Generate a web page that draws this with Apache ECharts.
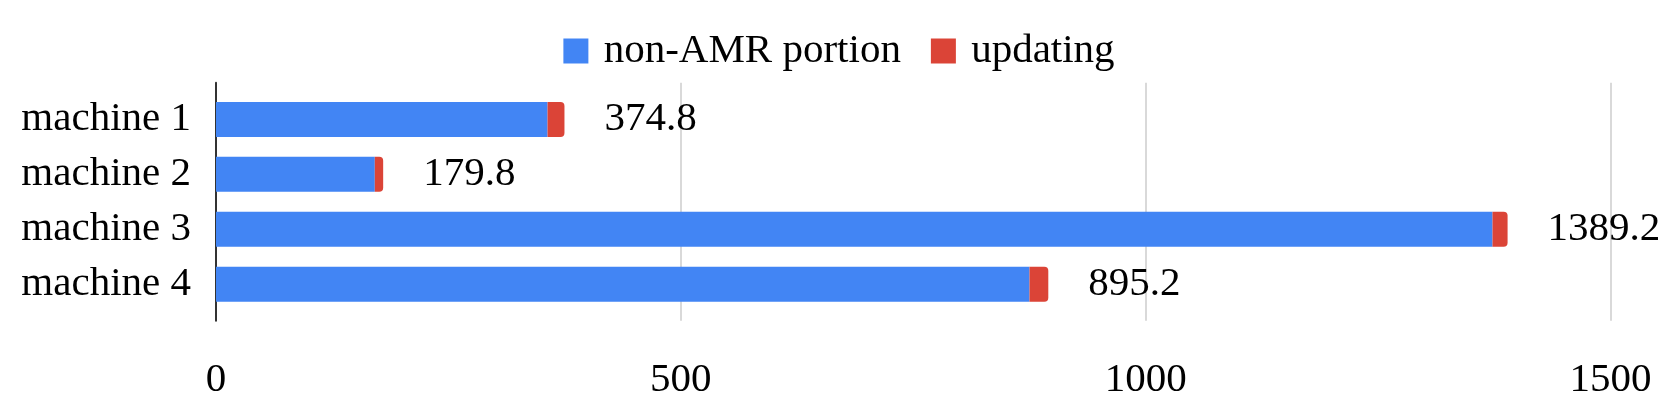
<!DOCTYPE html>
<html>
<head>
<meta charset="utf-8">
<script src="https://cdn.jsdelivr.net/npm/echarts@6/dist/echarts.min.js"></script>
<style>
html,body{margin:0;padding:0;background:#fff;}
#chart{width:1678px;height:411px;}
</style>
</head>
<body>
<div id="chart"></div>
<script>
var categories = ['machine 1', 'machine 2', 'machine 3', 'machine 4'];
var nonAmr = [356.6, 170.8, 1373.0, 875.0];
var updating = [18.2, 9.0, 16.2, 20.2];
var totalLabels = ['374.8', '179.8', '1389.2', '895.2'];
var xTicks = [0, 500, 1000, 1500];

var FONT = '"Liberation Serif", "Times New Roman", serif';
var chart = echarts.init(document.getElementById('chart'), null, {renderer: 'canvas'});
chart.setOption({
  animation: false,
  backgroundColor: '#fff',
  textStyle: {fontFamily: FONT},
  legend: {
    top: 23,
    left: 'center',
    icon: 'rect',
    itemWidth: 25,
    itemHeight: 25,
    itemGap: 30,
    formatter: function (name) { return ' ' + name; },
    textStyle: {fontFamily: FONT, fontSize: 41, color: '#000', lineHeight: 46},
    data: ['non-AMR portion', 'updating']
  },
  grid: [
    {left: 216, right: 67.4, top: 92, bottom: 99.4},
    {left: 216, right: 67.4, top: 82.7, bottom: 90.3}
  ],
  xAxis: [
    {gridIndex: 0, type: 'value', min: xTicks[0], max: xTicks[xTicks.length - 1], interval: 500, show: false},
    {
      gridIndex: 1, type: 'value', min: xTicks[0], max: xTicks[xTicks.length - 1], interval: 500,
      axisLine: {show: false}, axisTick: {show: false},
      splitLine: {show: true, lineStyle: {color: '#cccccc', width: 1.5}},
      axisLabel: {fontFamily: FONT, fontSize: 41, color: '#000', margin: 39,
        formatter: function (v) { return String(v); }}
    }
  ],
  yAxis: [
    {
      gridIndex: 0, type: 'category', inverse: true, data: categories,
      axisLine: {show: false}, axisTick: {show: false},
      axisLabel: {fontFamily: FONT, fontSize: 41, color: '#000', margin: 25}
    },
    {
      gridIndex: 1, type: 'category', data: [''],
      axisLine: {show: true, lineStyle: {color: '#333333', width: 2}},
      axisTick: {show: false}, axisLabel: {show: false}, splitLine: {show: false}
    }
  ],
  series: [
    {
      name: 'non-AMR portion', type: 'bar', stack: 'total', xAxisIndex: 0, yAxisIndex: 0,
      barWidth: 35, data: nonAmr,
      itemStyle: {color: '#4285f4'}
    },
    {
      name: 'updating', type: 'bar', stack: 'total', xAxisIndex: 0, yAxisIndex: 0,
      barWidth: 35, data: updating,
      itemStyle: {color: '#db4437', borderRadius: [0, 4, 4, 0]},
      label: {
        show: true, position: 'right', distance: 40,
        fontFamily: FONT, fontSize: 41, color: '#000',
        formatter: function (p) { return totalLabels[p.dataIndex]; }
      }
    }
  ]
});
</script>
</body>
</html>
